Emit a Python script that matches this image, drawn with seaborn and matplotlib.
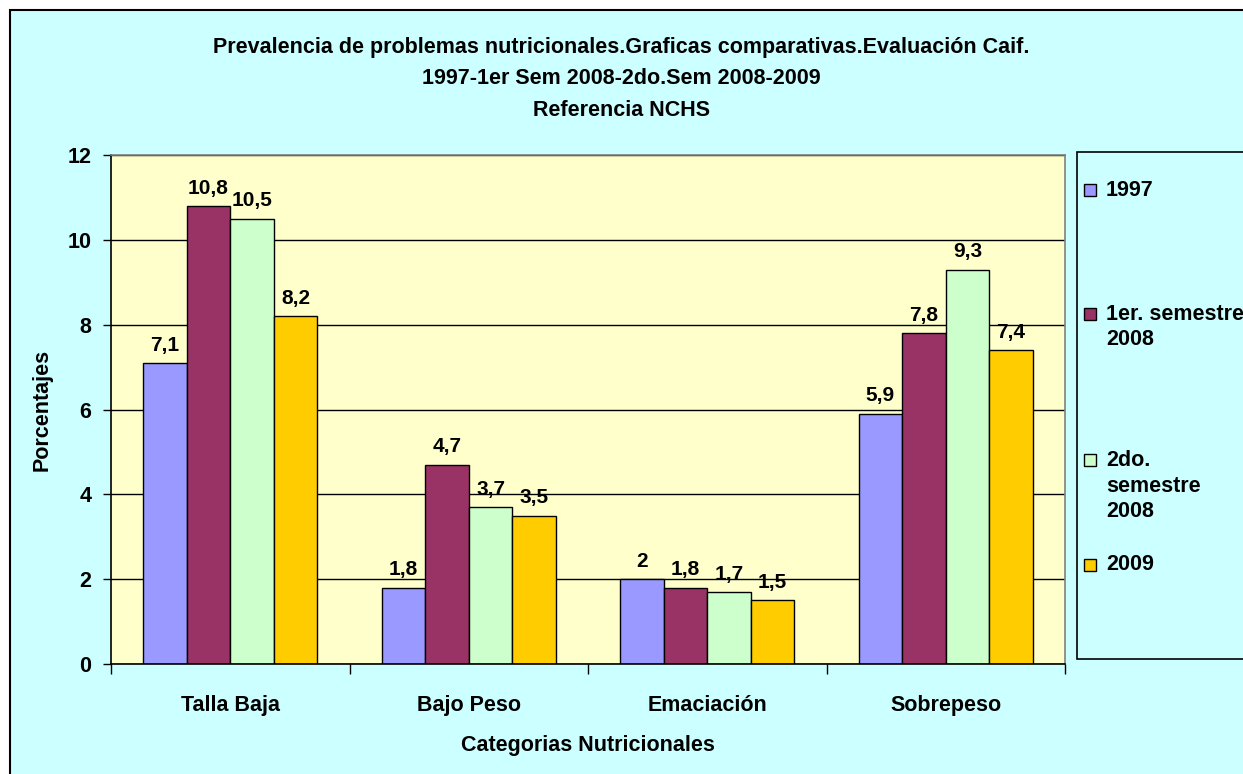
import matplotlib
matplotlib.use("Agg")
import matplotlib.pyplot as plt
from matplotlib.patches import Rectangle
from matplotlib.ticker import FixedLocator
import seaborn as sns
import pandas as pd

categories = ["Talla Baja", "Bajo Peso", "Emaciación", "Sobrepeso"]
series_names = ["1997", "1er. semestre\n2008", "2do.\nsemestre\n2008", "2009"]
v1997 = [7.1, 1.8, 2.0, 5.9]
v1sem2008 = [10.8, 4.7, 1.8, 7.8]
v2sem2008 = [10.5, 3.7, 1.7, 9.3]
v2009 = [8.2, 3.5, 1.5, 7.4]
y_ticks = [0, 2, 4, 6, 8, 10, 12]
colors = ["#9999FF", "#993366", "#CCFFCC", "#FFCC00"]

title_lines = ["Prevalencia de problemas nutricionales.Graficas comparativas.Evaluación Caif.",
               "1997-1er Sem 2008-2do.Sem 2008-2009",
               "Referencia NCHS"]

sns.set_style("white")
plt.rcParams['font.family'] = ['Liberation Sans', 'DejaVu Sans']
plt.rcParams['font.weight'] = 'bold'
plt.rcParams['text.color'] = 'black'
plt.rcParams['xtick.color'] = 'black'
plt.rcParams['ytick.color'] = 'black'
plt.rcParams['axes.labelcolor'] = 'black'

FS = 15.5

all_vals = [v1997, v1sem2008, v2sem2008, v2009]
rows = []
for name, vals in zip(series_names, all_vals):
    for c, v in zip(categories, vals):
        rows.append({"cat": c, "serie": name, "val": v})
df = pd.DataFrame(rows)

W, H = 1243, 774
fig = plt.figure(figsize=(W / 100, H / 100), dpi=100, facecolor="white")
# outer chart frame
fig.patches.append(Rectangle((10 / W, -0.01), 1.0, 1 - 10 / H + 0.01, transform=fig.transFigure,
                             facecolor="#CCFFFF", edgecolor="black", linewidth=1.5, zorder=-5))

ax = fig.add_axes([111 / W, (H - 664) / H, (1065 - 111) / W, (664 - 155) / H])
ax.set_zorder(2)
ax.set_facecolor("#FFFFCC")

sns.barplot(data=df, x="cat", y="val", hue="serie", palette=colors, width=0.73,
            edgecolor="black", linewidth=1, ax=ax, legend=False, saturation=1)

def fmt(v):
    return ("%g" % v).replace(".", ",")

for cont, vals in zip(ax.containers, all_vals):
    ax.bar_label(cont, labels=[fmt(v) for v in vals], padding=6, fontsize=15, fontweight="bold")

ax.set_ylim(0, 12)
ax.set_xlim(-0.5, 3.5)
ax.yaxis.set_major_locator(FixedLocator(y_ticks))
ax.set_yticklabels([str(t) for t in y_ticks])
ax.yaxis.grid(True, color="black", linewidth=1)
ax.set_axisbelow(True)
ax.tick_params(axis="y", which="major", length=6, width=1, color="black", pad=8, labelsize=FS, left=True, direction="out")
ax.tick_params(axis="x", which="major", length=0, pad=22, labelsize=FS)
ax.xaxis.set_minor_locator(FixedLocator([-0.5, 0.5, 1.5, 2.5, 3.5]))
ax.tick_params(axis="x", which="minor", length=7, width=1, color="black", bottom=True, direction="out")
for lab in ax.get_xticklabels() + ax.get_yticklabels():
    lab.set_fontweight("bold")
ax.set_xlabel("")
ax.set_ylabel("")
for s in ["left", "bottom"]:
    ax.spines[s].set_color("black")
    ax.spines[s].set_linewidth(1.2)
for s in ["top", "right"]:
    ax.spines[s].set_color("#808080")
    ax.spines[s].set_linewidth(1.2)

# titles and axis labels
for line, y in zip(title_lines, [47, 79, 110]):
    fig.text(0.5, 1 - y / H, line, ha="center", va="center", fontsize=FS, fontweight="bold")
fig.text(42 / W, 1 - 410 / H, "Porcentajes", rotation=90, ha="center", va="center", fontsize=FS, fontweight="bold")
fig.text(588 / W, 1 - 745 / H, "Categorias Nutricionales", ha="center", va="center", fontsize=FS, fontweight="bold")

# legend box
fig.patches.append(Rectangle((1077 / W, 1 - 659 / H), 1.0, (659 - 152) / H, transform=fig.transFigure,
                             facecolor="#CCFFFF", edgecolor="black", linewidth=1.2, zorder=3))
leg_y = [190, 327, 486, 565]
for name, c, y in zip(series_names, colors, leg_y):
    nlines = name.count("\n") + 1
    first_y = y - (nlines - 1) * 13
    fig.patches.append(Rectangle((1084 / W, 1 - (first_y + 6) / H), 12 / W, 12 / H, transform=fig.transFigure,
                                 facecolor=c, edgecolor="black", linewidth=1, zorder=4))
    fig.text(1106 / W, 1 - y / H, name, ha="left", va="center", fontsize=FS, fontweight="bold",
             linespacing=1.3, zorder=5)

fig.savefig("out.png", dpi=100, facecolor="white")
